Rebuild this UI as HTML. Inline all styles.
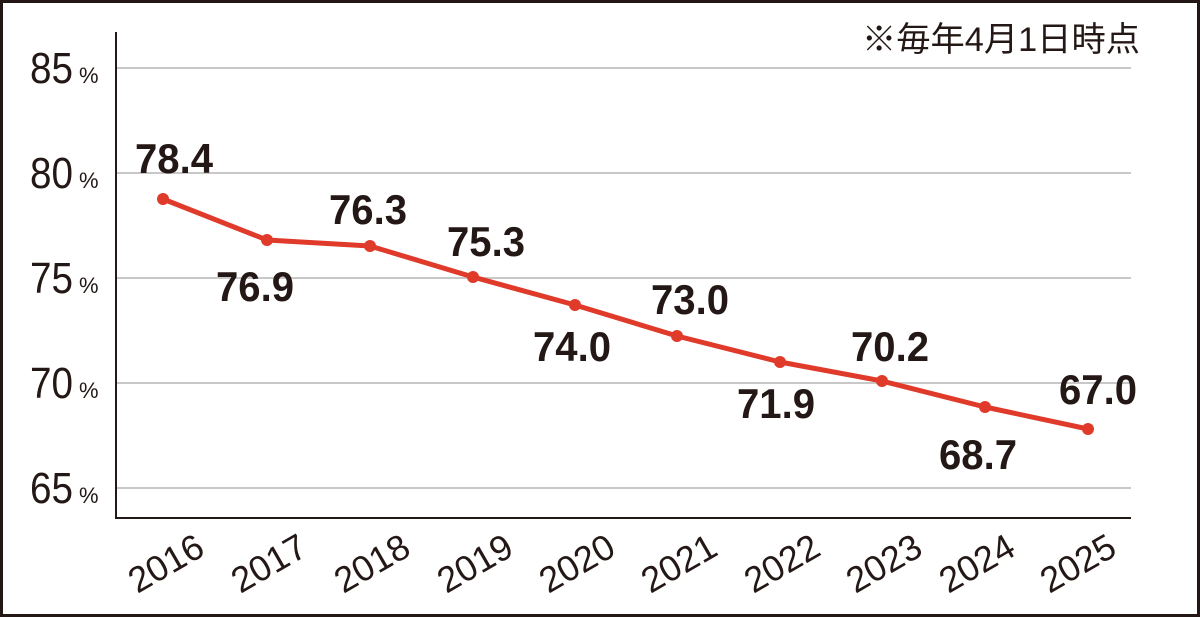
<!DOCTYPE html>
<html><head><meta charset="utf-8"><style>
html,body{margin:0;padding:0;background:#fff}
svg{display:block}
text{font-family:"Liberation Sans","Noto Sans CJK JP",sans-serif;fill:#231815}
</style></head><body>
<svg width="1200" height="617" viewBox="0 0 1200 617">
<rect x="1.5" y="1.5" width="1197" height="614" fill="#fff" stroke="#231815" stroke-width="3"/>
<g stroke="#c8c8c8" stroke-width="2">
<line x1="117" y1="68" x2="1131" y2="68"/>
<line x1="117" y1="173" x2="1131" y2="173"/>
<line x1="117" y1="278" x2="1131" y2="278"/>
<line x1="117" y1="383" x2="1131" y2="383"/>
<line x1="117" y1="488" x2="1131" y2="488"/>
</g>
<line x1="116" y1="32" x2="116" y2="519" stroke="#231815" stroke-width="2"/>
<line x1="115" y1="518" x2="1131" y2="518" stroke="#231815" stroke-width="2"/>
<g font-size="44">
<text x="30" y="83" textLength="43" lengthAdjust="spacingAndGlyphs">85</text>
<text x="30" y="188" textLength="43" lengthAdjust="spacingAndGlyphs">80</text>
<text x="30" y="293" textLength="43" lengthAdjust="spacingAndGlyphs">75</text>
<text x="30" y="398" textLength="43" lengthAdjust="spacingAndGlyphs">70</text>
<text x="30" y="503" textLength="43" lengthAdjust="spacingAndGlyphs">65</text>
</g>
<g font-size="22">
<text x="79" y="83">%</text><text x="79" y="188">%</text><text x="79" y="293">%</text><text x="79" y="398">%</text><text x="79" y="503">%</text>
</g>
<text x="862" y="51" font-size="34" textLength="278" lengthAdjust="spacingAndGlyphs">※毎年4月1日時点</text>
<polyline fill="none" stroke="#e03a2a" stroke-width="5" stroke-linejoin="round" points="163,199 267,240 370,246 473,277 575,305 677,336 780,362 882,381 985,407 1088,429"/>
<g fill="#e03a2a">
<circle cx="163" cy="199" r="6"/><circle cx="267" cy="240" r="6"/><circle cx="370" cy="246" r="6"/><circle cx="473" cy="277" r="6"/><circle cx="575" cy="305" r="6"/><circle cx="677" cy="336" r="6"/><circle cx="780" cy="362" r="6"/><circle cx="882" cy="381" r="6"/><circle cx="985" cy="407" r="6"/><circle cx="1088" cy="429" r="6"/>
</g>
<g font-size="42" font-weight="bold">
<text x="135" y="173" textLength="78" lengthAdjust="spacingAndGlyphs">78.4</text>
<text x="216" y="301" textLength="78" lengthAdjust="spacingAndGlyphs">76.9</text>
<text x="329" y="224" textLength="78" lengthAdjust="spacingAndGlyphs">76.3</text>
<text x="447" y="256" textLength="78" lengthAdjust="spacingAndGlyphs">75.3</text>
<text x="533" y="361" textLength="78" lengthAdjust="spacingAndGlyphs">74.0</text>
<text x="651" y="314" textLength="78" lengthAdjust="spacingAndGlyphs">73.0</text>
<text x="737" y="418" textLength="78" lengthAdjust="spacingAndGlyphs">71.9</text>
<text x="851" y="361" textLength="78" lengthAdjust="spacingAndGlyphs">70.2</text>
<text x="939" y="469" textLength="78" lengthAdjust="spacingAndGlyphs">68.7</text>
<text x="1059" y="404" textLength="78" lengthAdjust="spacingAndGlyphs">67.0</text>
</g>
<g font-size="36" text-anchor="middle">
<text transform="translate(172,574) rotate(-30)">2016</text>
<text transform="translate(275,574) rotate(-30)">2017</text>
<text transform="translate(378,574) rotate(-30)">2018</text>
<text transform="translate(481,574) rotate(-30)">2019</text>
<text transform="translate(583,574) rotate(-30)">2020</text>
<text transform="translate(685,574) rotate(-30)">2021</text>
<text transform="translate(788,574) rotate(-30)">2022</text>
<text transform="translate(890,574) rotate(-30)">2023</text>
<text transform="translate(983,574) rotate(-30)">2024</text>
<text transform="translate(1084,574) rotate(-30)">2025</text>
</g>
</svg>
</body></html>
